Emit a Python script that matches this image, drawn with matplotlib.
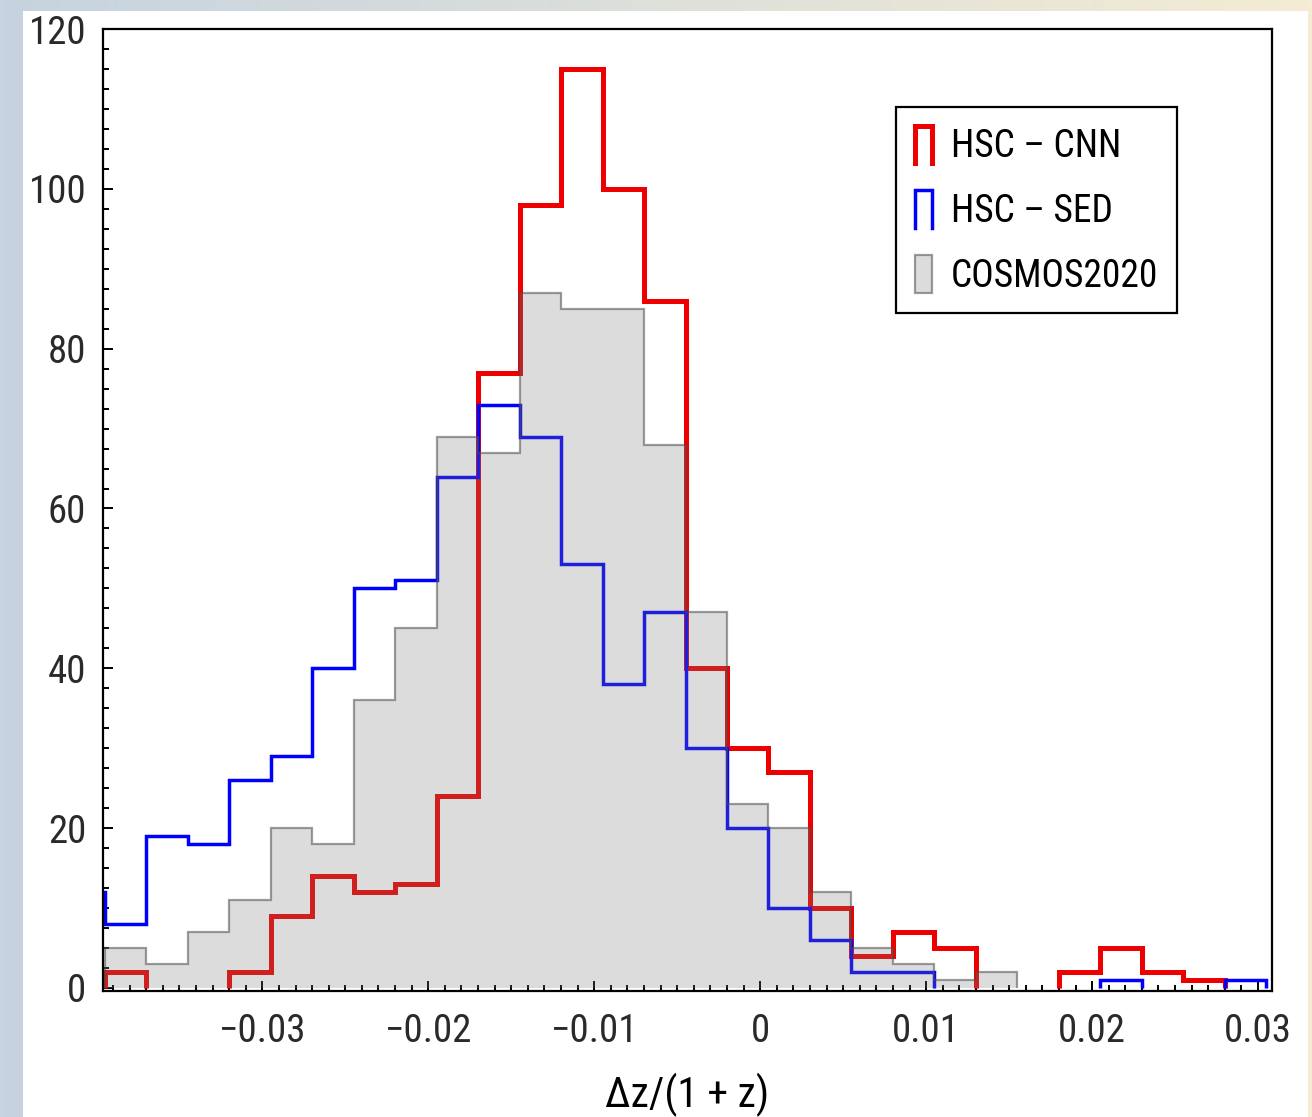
import numpy as np
import matplotlib
matplotlib.use('Agg')
import matplotlib.pyplot as plt
from matplotlib import font_manager
from matplotlib.patches import Rectangle
from matplotlib.lines import Line2D
from matplotlib.legend_handler import HandlerBase
from matplotlib.ticker import MultipleLocator

# the original uses a tall, condensed sans; take a narrow face if one is around
installed = {f.name for f in font_manager.fontManager.ttflist}
narrow = [n for n in ['Liberation Sans Narrow', 'DejaVu Sans Condensed', 'Roboto Condensed',
                      'Open Sans Condensed', 'Noto Sans Condensed'] if n in installed]
condensed_faces = [f.name for f in font_manager.fontManager.ttflist
                   if str(f.stretch) in ('condensed', 'semi-condensed', 'extra-condensed')]
if narrow:
    plt.rcParams['font.family'] = [narrow[0], 'DejaVu Sans']
elif condensed_faces:
    plt.rcParams['font.family'] = [condensed_faces[0], 'DejaVu Sans']
    plt.rcParams['font.stretch'] = 'condensed'
else:
    plt.rcParams['font.family'] = ['DejaVu Sans']

# bin edges: 0.0025 wide, first bin sits just off the left of the axis
bin_edges = np.round(np.arange(-0.042, 0.0306, 0.0025), 4)

cnn_counts = [0, 2, 0, 0, 2, 9, 14, 12, 13, 24, 77, 98, 115, 100, 86, 40, 30, 27,
              10, 4, 7, 5, 0, 0, 2, 5, 2, 1, 0]
sed_counts = [12, 8, 19, 18, 26, 29, 40, 50, 51, 64, 73, 69, 53, 38, 47, 30, 20, 10,
              6, 2, 2, 0, 0, 0, 0, 1, 0, 0, 1]
cosmos_counts = [0, 5, 3, 7, 11, 20, 18, 36, 45, 69, 67, 87, 85, 85, 68, 47, 23, 20,
                 12, 5, 3, 1, 2, 0, 0, 0, 0, 0, 0]

labels = ['HSC \u2013 CNN', 'HSC \u2013 SED', 'COSMOS2020']


def draw_runs(ax, counts, edges, **kw):
    # one stairs per run of non-empty bins, so empty bins leave no line on the axis
    counts = np.asarray(counts, float)
    parts = []
    i = 0
    while i < len(counts):
        if counts[i] > 0:
            j = i
            while j < len(counts) and counts[j] > 0:
                j += 1
            parts.append(ax.stairs(counts[i:j], edges[i:j + 1], baseline=0, **kw))
            i = j
        else:
            i += 1
    return parts


class StepHandle(HandlerBase):
    # open-bottom box, like a step histogram outline
    def create_artists(self, legend, orig_handle, xdescent, ydescent, width, height,
                       fontsize, trans):
        x0, x1 = -xdescent, -xdescent + width
        y0, y1 = -ydescent, -ydescent + height
        ln = Line2D([x0, x0, x1, x1], [y0, y1, y1, y0], color=orig_handle.get_edgecolor(),
                    linewidth=orig_handle.get_linewidth(), solid_joinstyle='miter',
                    transform=trans)
        return [ln]


fig = plt.figure(figsize=(13.12, 11.17), dpi=100)

# slide-like background: gradient strip with a white panel on top
bg = fig.add_axes([0, 0, 1, 1], zorder=-10)
left_col = np.array([198, 211, 224]) / 255
right_col = np.array([244, 236, 212]) / 255
t = np.linspace(0, 1, 256)[None, :, None]
grad = left_col * (1 - t) + right_col * t
bg.imshow(grad, aspect='auto', extent=[0, 1, 0, 1])
bg.add_patch(Rectangle((23 / 1312, 0), (1308 - 23) / 1312, 1 - 11 / 1117,
                       facecolor='white', edgecolor='none'))
bg.set_xlim(0, 1)
bg.set_ylim(0, 1)
bg.axis('off')

ax = fig.add_axes([103 / 1312, 1 - 991 / 1117, (1272 - 103) / 1312, (991 - 29) / 1117])

red = draw_runs(ax, cnn_counts, bin_edges, color='#ee0000', linewidth=3.6, zorder=2)
blue = draw_runs(ax, sed_counts, bin_edges, color='#0000ff', linewidth=2.5, zorder=2)
gray = draw_runs(ax, cosmos_counts, bin_edges, fill=True, facecolor=(0.48, 0.48, 0.48, 0.26),
                 edgecolor=(0.3, 0.3, 0.3, 0.55), linewidth=1.6, zorder=3)

ax.set_xlim(-0.0396, 0.03084)
ax.set_ylim(-0.38, 120)

ax.xaxis.set_major_locator(MultipleLocator(0.01))
ax.xaxis.set_minor_locator(MultipleLocator(0.001))
ax.yaxis.set_major_locator(MultipleLocator(20))
ax.yaxis.set_minor_locator(MultipleLocator(2.5))
ax.tick_params(which='both', direction='in', top=False, right=False, width=1.4,
               labelsize=28, labelcolor='#2a2a2a')
ax.tick_params(axis='y', pad=12)
ax.tick_params(axis='x', pad=16)
ax.tick_params(which='major', length=7)
ax.tick_params(which='minor', length=4)
ax.xaxis.set_major_formatter(plt.FuncFormatter(
    lambda v, p: '0' if abs(v) < 1e-9 else ('%.2f' % v).replace('-', '\u2212')))

for s in ax.spines.values():
    s.set_linewidth(1.6)

ax.set_xlabel('\u0394z/(1 + z)', fontsize=30, labelpad=16)

leg = ax.legend(handles=[red[0], blue[0], gray[0]], labels=labels,
                handler_map={red[0]: StepHandle(), blue[0]: StepHandle()},
                loc='upper right', bbox_to_anchor=(0.9187, 0.919), borderaxespad=0,
                fontsize=27, handlelength=0.45, handleheight=1.15, labelspacing=0.68,
                handletextpad=0.5, borderpad=0.5, fancybox=False, framealpha=1)
leg.get_frame().set_edgecolor('black')
leg.get_frame().set_linewidth(1.6)

fig.savefig('out.png', dpi=100)
